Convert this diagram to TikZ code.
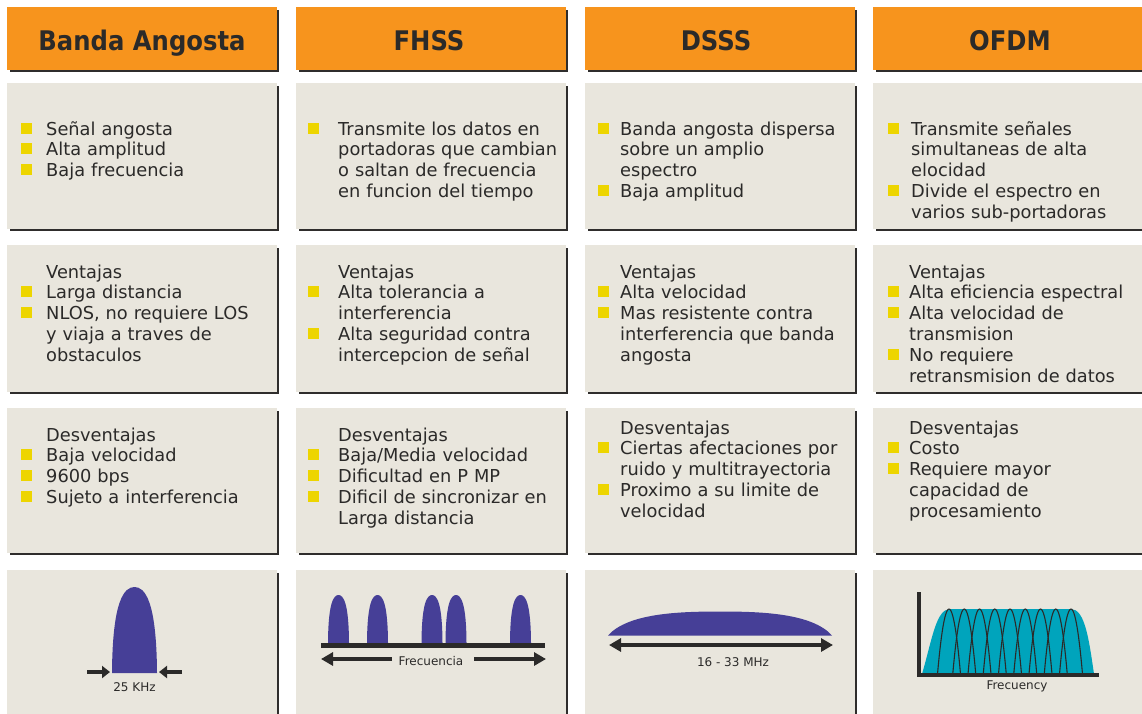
\documentclass[tikz,border=0pt]{standalone}
\usepackage{fontspec}
\setmainfont{DejaVu Sans}
\usepackage{graphicx}
\usetikzlibrary{arrows.meta}
\definecolor{orangeh}{HTML}{F7941D}
\definecolor{cellbg}{HTML}{E9E6DD}
\definecolor{bulc}{HTML}{EDD500}
\definecolor{txt}{HTML}{2B2A29}
\definecolor{shad}{HTML}{2F2D2C}
\definecolor{purp}{HTML}{463F97}
\definecolor{ofdmc}{HTML}{00A4BC}
\newcommand\bl[1]{\leavevmode\llap{\textcolor{bulc}{\rule[1.5pt]{11pt}{11pt}}\hspace{#1pt}}}
\newcommand\cellbox[5]{%
  \fill[#5] (#1,#2) rectangle (#3,#4);
  \draw[shadowline] (#3+1,#2+3) -- (#3+1,#4+1) -- (#1+3,#4+1);}
\newcommand\hump[4]{% cx, base, halfwidth, height
  \fill[purp] (#1-#3,#2) .. controls (#1-0.98*#3,#2-0.85*#4) and (#1-0.45*#3,#2-#4) .. (#1,#2-#4)
     .. controls (#1+0.45*#3,#2-#4) and (#1+0.98*#3,#2-0.85*#4) .. (#1+#3,#2) -- cycle;}
\tikzset{
  shadowline/.style={draw=shad, line width=2pt},
  body/.style={font=\fontsize{17.8}{20.8}\selectfont, text=txt, inner sep=0pt,
    text width=250pt, align=left, anchor=base west},
  hd/.style={font=\fontsize{27}{30}\selectfont\bfseries, text=txt, inner sep=0pt, anchor=base},
  lbl/.style={font=\fontsize{12}{14}\selectfont, text=txt, inner sep=0pt},
  fatone/.style={line width=4pt, -{Triangle[length=8pt,width=12pt]}, draw=txt},
  fattwo/.style={line width=4pt, -{Triangle[length=12pt,width=13pt]}, draw=txt},
  fatboth/.style={line width=4pt, {Triangle[length=12pt,width=13pt]}-{Triangle[length=12pt,width=13pt]}, draw=txt},
}
\begin{document}
\begin{tikzpicture}[x=1pt,y=-1pt]
\useasboundingbox (0,0) rectangle (1142,713);
\fill[white] (0,0) rectangle (1142,713);
% headers
\cellbox{7}{7}{277}{70}{orangeh}
\cellbox{296}{7}{566}{70}{orangeh}
\cellbox{585}{7}{855}{70}{orangeh}
\cellbox{873}{7}{1143}{70}{orangeh}
% rows
\foreach \ya/\yb in {83/229,245/392,408/553,570/722}{
  \cellbox{7}{\ya}{277}{\yb}{cellbg}
  \cellbox{296}{\ya}{566}{\yb}{cellbg}
  \cellbox{585}{\ya}{855}{\yb}{cellbg}
  \cellbox{873}{\ya}{1143}{\yb}{cellbg}
}
\node[hd] (h1) at (142,50) {\scalebox{0.9}[1]{Banda Angosta}};
\node[hd] (h2) at (429,50) {\scalebox{0.9}[1]{FHSS}};
\node[hd] (h3) at (716,50) {\scalebox{0.9}[1]{DSSS}};
\node[hd] (h4) at (1010,50) {\scalebox{0.9}[1]{OFDM}};
% row 2
\node[body] (t21) at (46,135) {\bl{14}Señal angosta\\\bl{14}Alta amplitud\\\bl{14}Baja frecuencia};
\node[body] (t22) at (338,135) {\bl{19}Transmite los datos en\\portadoras que cambian\\o saltan de frecuencia\\en funcion del tiempo};
\node[body] (t23) at (620,135) {\bl{11}Banda angosta dispersa\\sobre un amplio\\espectro\\\bl{11}Baja amplitud};
\node[body] (t24) at (911,135) {\bl{12}Transmite señales\\simultaneas de alta\\elocidad\\\bl{12}Divide el espectro en\\varios sub-portadoras};
% row 3
\node[body] (t31) at (46,278) {Ventajas\\\bl{14}Larga distancia\\\bl{14}NLOS, no requiere LOS\\y viaja a traves de\\obstaculos};
\node[body] (t32) at (338,278) {Ventajas\\\bl{19}Alta tolerancia a\\interferencia\\\bl{19}Alta seguridad contra\\intercepcion de señal};
\node[body] (t33) at (620,278) {Ventajas\\\bl{11}Alta velocidad\\\bl{11}Mas resistente contra\\interferencia que banda\\angosta};
\node[body] (t34) at (909,278) {Ventajas\\\bl{10}Alta eficiencia espectral\\\bl{10}Alta velocidad de\\transmision\\\bl{10}No requiere\\retransmision de datos};
% row 4
\node[body] (t41) at (46,441) {Desventajas\\\bl{14}Baja velocidad\\\bl{14}9600 bps\\\bl{14}Sujeto a interferencia};
\node[body] (t42) at (338,441) {Desventajas\\\bl{19}Baja/Media velocidad\\\bl{19}Dificultad en P MP\\\bl{19}Dificil de sincronizar en\\Larga distancia};
\node[body] (t43) at (620,434) {Desventajas\\\bl{11}Ciertas afectaciones por\\ruido y multitrayectoria\\\bl{11}Proximo a su limite de\\velocidad};
\node[body] (t44) at (909,434) {Desventajas\\\bl{10}Costo\\\bl{10}Requiere mayor\\capacidad de\\procesamiento};
% --- graphic 1: narrow band
\hump{134.5}{673}{22.5}{86}
\coordinate (a1s) at (87,672); \coordinate (a1e) at (110,672);
\coordinate (a2s) at (182,672); \coordinate (a2e) at (159,672);
\draw[fatone] (a1s) -- (a1e);
\draw[fatone] (a2s) -- (a2e);
\node[lbl] (l1) at (134.5,687) {25 KHz};
% --- graphic 2: FHSS
\foreach \cx in {338.5,377.5,432,456,520.5}{\hump{\cx}{643}{10.5}{48}}
\fill[txt] (321,643) rectangle (545,648);
\node[lbl] (l2) at (431,661) {Frecuencia};
\coordinate (b1s) at (392,659); \coordinate (b1e) at (321,659);
\coordinate (b2s) at (474,659); \coordinate (b2e) at (546,659);
\draw[fattwo] (b1s) -- (b1e);
\draw[fattwo] (b2s) -- (b2e);
% --- graphic 3: DSSS
\fill[purp] (608,635.5) .. controls (628,613) and (680,611.5) .. (720,611.5)
  .. controls (760,611.5) and (812,613) .. (832,635.5) -- cycle;
\coordinate (c1) at (609,645); \coordinate (c2) at (833,645);
\draw[fatboth] (c1) -- (c2);
\node[lbl] (l3) at (733,662) {16 - 33 MHz};
% --- graphic 4: OFDM
\fill[ofdmc] (922,674) .. controls (932,640) and (936,609) .. (950,609) -- (1071,609)
  .. controls (1085,609) and (1089,640) .. (1094,674) -- cycle;
\foreach \k in {0,...,8}{
  \draw[txt, line width=1.1pt] plot[domain=-1:1, samples=25, smooth] ({949+15.25*\k+11.5*\x},{674-65*(1-\x*\x)});
}
\coordinate (ax0) at (919,677); \coordinate (ax1) at (919,592); \coordinate (ax2) at (1099,675);
\coordinate (ax3) at (917,675);
\draw[txt, line width=3.5pt] (ax1) -- (ax0);
\draw[txt, line width=4pt] (ax3) -- (ax2);
\node[lbl] (l4) at (1017,686) {Frecuency};
\end{tikzpicture}
\end{document}
